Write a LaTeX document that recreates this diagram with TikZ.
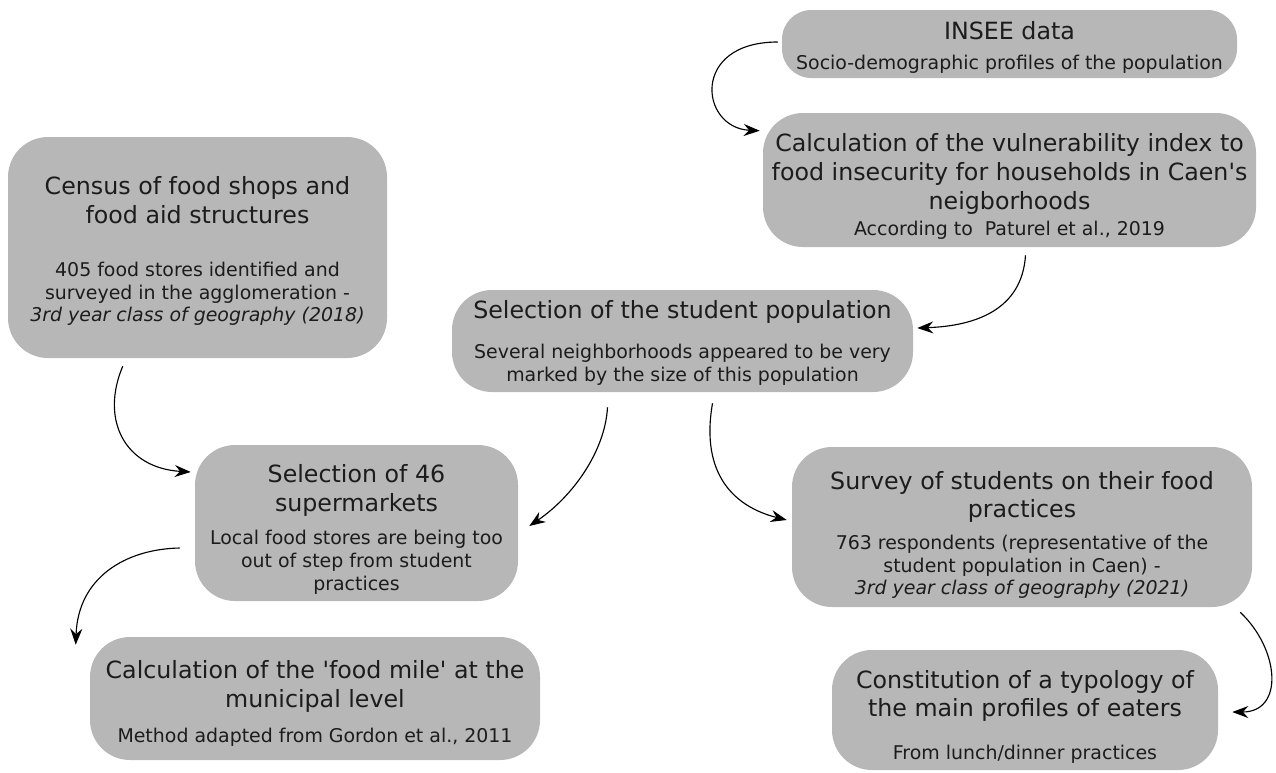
\documentclass[tikz,border=0pt]{standalone}
\usepackage{fontspec}
\setmainfont{DejaVu Sans}[Ligatures=TeXOff]
\usetikzlibrary{arrows.meta,calc}
\definecolor{boxgray}{RGB}{183,183,183}
\definecolor{ink}{RGB}{28,28,28}
\newcommand{\titlefont}{\fontsize{17.8}{21.5}\selectfont}
\newcommand{\notefont}{\fontsize{14.2}{17}\selectfont}
% invisible strut on the first line, sets the space above the text
\newcommand{\lead}[1]{\rule{0pt}{#1}}
\tikzset{
  stepbox/.style={fill=boxgray, draw=none, rounded corners=30pt, inner xsep=0pt,
    inner ysep=0pt, align=flush center, text=ink},
  flow/.style={draw=black, line width=0.85pt, -{Stealth[length=12pt,width=9pt,inset=4pt]}}
}
\begin{document}
\begin{tikzpicture}[x=0.75pt,y=-0.75pt]
\useasboundingbox (0,0) rectangle (1276,772);

\node[stepbox, rounded corners=22pt, text width=341.25pt, minimum height=51pt] (insee) at (1009.5,44)
  {{\titlefont\lead{19pt}INSEE data\par}\vspace{5.25pt}{\notefont Socio-demographic profiles of the population\par}};

\node[stepbox, text width=369.75pt, minimum height=100.5pt] (vuln) at (1009.5,180)
  {{\titlefont\lead{23.25pt}Calculation of the vulnerability index to\\ food insecurity for households in Caen's\\ neigborhoods\par}\vspace{2.75pt}{\notefont According to~ Paturel et al., 2019\par}};

\node[stepbox, text width=284.25pt, minimum height=165.75pt] (census) at (197.5,247.5)
  {{\titlefont\lead{18.75pt}Census of food shops and\\ food aid structures\par}\vspace{23pt}{\notefont 405 food stores identified and\\ surveyed in the agglomeration -\\ \textit{3rd year class of geography (2018)}\par}};

\node[stepbox, text width=345.75pt, minimum height=76.5pt] (student) at (682.5,341)
  {{\titlefont\lead{16.25pt}Selection of the student population\par}\vspace{13.25pt}{\notefont Several neighborhoods appeared to be very\\ marked by the size of this population\par}};

\node[stepbox, text width=242.25pt, minimum height=117pt] (sel) at (356.5,523)
  {{\titlefont\lead{23.25pt}Selection of 46\\ supermarkets\par}\vspace{8pt}{\notefont Local food stores are being too\\ out of step from student\\ practices\par}};

\node[stepbox, text width=345pt, minimum height=120pt] (survey) at (1022,527)
  {{\titlefont\lead{25.5pt}Survey of students on their food\\ practices\par}\vspace{6.75pt}{\notefont 763 respondents (representative of the\\ student population in Caen) -\\ \textit{3rd year class of geography (2021)}\par}};

\node[stepbox, text width=337.5pt, minimum height=92.25pt] (mile) at (315,698.5)
  {{\titlefont\lead{21pt}Calculation of the 'food mile' at the\\ municipal level\par}\vspace{9.5pt}{\notefont Method adapted from Gordon et al., 2011\par}};

\node[stepbox, text width=289.5pt, minimum height=90pt] (typo) at (1025,710)
  {{\titlefont\lead{23.5pt}Constitution of a typology of\\ the main profiles of eaters\par}\vspace{15pt}{\notefont From lunch/dinner practices\par}};

% connectors
\draw[flow] ($(insee.west)+(-4,-2)$) .. controls (690,42) and (700,128) .. ($(vuln.north west)+(-3,18)$);
\draw[flow] ($(vuln.south)+(16,8)$) .. controls (1022,310) and (975,326) .. ($(student.east)+(4,-13)$);
\draw[flow] ($(census.south west)+(115,8)$) .. controls (100,420) and (125,468) .. ($(sel.west)+(-4,-51)$);
\draw[flow] ($(student.south)+(-75,15)$) .. controls (605,452) and (572,497) .. ($(sel.east)+(11,3)$);
\draw[flow] ($(student.south)+(30,11)$) .. controls (700,475) and (735,507) .. ($(survey.west)+(-5,-7)$);
\draw[flow] ($(sel.west)+(-15,25)$) .. controls (125,549) and (78,578) .. ($(mile.north west)+(-14,8)$);
\draw[flow] ($(survey.south east)+(-12,5)$) .. controls (1280,650) and (1284,712) .. ($(typo.east)+(14,2)$);
\end{tikzpicture}
\end{document}
